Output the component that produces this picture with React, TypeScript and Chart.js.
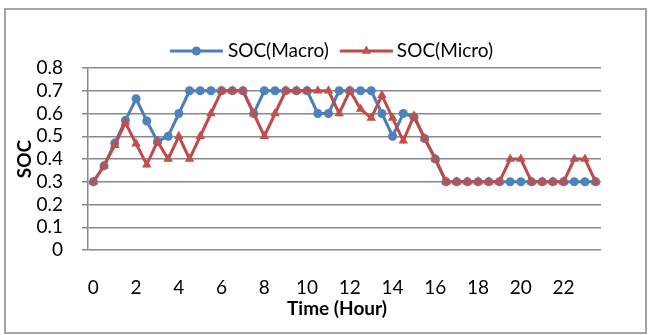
import React, { useEffect, useRef } from "react";
import { Chart, registerables } from "chart.js";

Chart.register(...registerables);

// Half-hour time steps over one day
const hours: string[] = [
  "0", "0.5", "1", "1.5", "2", "2.5", "3", "3.5", "4", "4.5", "5", "5.5",
  "6", "6.5", "7", "7.5", "8", "8.5", "9", "9.5", "10", "10.5", "11", "11.5",
  "12", "12.5", "13", "13.5", "14", "14.5", "15", "15.5", "16", "16.5", "17", "17.5",
  "18", "18.5", "19", "19.5", "20", "20.5", "21", "21.5", "22", "22.5", "23", "23.5",
];

// State of charge, macro-grid strategy
const socMacro: number[] = [
  0.3, 0.37, 0.47, 0.57, 0.665, 0.567, 0.477, 0.5, 0.6, 0.7, 0.7, 0.7,
  0.7, 0.7, 0.7, 0.6, 0.7, 0.7, 0.7, 0.7, 0.7, 0.6, 0.6, 0.7,
  0.7, 0.7, 0.7, 0.6, 0.5, 0.6, 0.585, 0.49, 0.4, 0.3, 0.3, 0.3,
  0.3, 0.3, 0.3, 0.3, 0.3, 0.3, 0.3, 0.3, 0.3, 0.3, 0.3, 0.3,
];

// State of charge, micro-grid strategy
const socMicro: number[] = [
  0.3, 0.37, 0.46, 0.56, 0.467, 0.375, 0.477, 0.4, 0.5, 0.4, 0.5, 0.6,
  0.7, 0.7, 0.7, 0.6, 0.5, 0.6, 0.7, 0.7, 0.7, 0.7, 0.7, 0.6,
  0.7, 0.62, 0.58, 0.68, 0.58, 0.48, 0.59, 0.49, 0.4, 0.3, 0.3, 0.3,
  0.3, 0.3, 0.3, 0.4, 0.4, 0.3, 0.3, 0.3, 0.3, 0.4, 0.4, 0.3,
];

// y-axis tick values
const yTicks: number[] = [0, 0.1, 0.2, 0.3, 0.4, 0.5, 0.6, 0.7, 0.8];

const seriesNames = ["SOC(Macro)", "SOC(Micro)"];
const xTitle = "Time (Hour)";
const yTitle = "SOC";

const FONT = "Lato, 'Liberation Sans', sans-serif";
const GRID = "#888888";
const BLUE_LINE = "#4A7EBB";
const BLUE_FILL = "#4F81BD";
const RED_LINE = "#BE4B48";
const RED_FILL = "#C0504D";

const frameAndText = {
  id: "frameAndText",
  beforeDraw(chart: any) {
    const ctx = chart.ctx;
    ctx.save();
    ctx.fillStyle = "#ffffff";
    ctx.fillRect(0, 0, chart.width, chart.height);
    ctx.strokeStyle = "#a3a3a3";
    ctx.lineWidth = 2;
    ctx.strokeRect(5, 9, 641, 324);
    ctx.restore();
  },
  afterDraw(chart: any) {
    const ctx = chart.ctx;
    const area = chart.chartArea;
    ctx.save();
    ctx.fillStyle = "#000000";
    ctx.textBaseline = "middle";
    ctx.textAlign = "center";

    // axis titles
    ctx.font = `bold 19px ${FONT}`;
    ctx.fillText(xTitle, 337, 309);
    ctx.save();
    ctx.translate(25, (area.top + area.bottom) / 2);
    ctx.rotate(-Math.PI / 2);
    ctx.fillText(yTitle, 0, 0);
    ctx.restore();

    // legend: line with marker, then series name
    ctx.font = `19px ${FONT}`;
    const lineLen = 53;
    const w0 = ctx.measureText(seriesNames[0]).width;
    const w1 = ctx.measureText(seriesNames[1]).width;
    const total = lineLen + 5 + w0 + 11 + lineLen + 4 + w1;
    let x = 331.5 - total / 2;
    const y = 51;
    const items = [
      { line: BLUE_LINE, fill: BLUE_FILL, style: "circle", r: 4.5, w: w0, gap: 5, after: 11 },
      { line: RED_LINE, fill: RED_FILL, style: "triangle", r: 5.5, w: w1, gap: 4, after: 0 },
    ];
    items.forEach((it, i) => {
      ctx.strokeStyle = it.line;
      ctx.lineWidth = 3;
      ctx.beginPath();
      ctx.moveTo(x, y);
      ctx.lineTo(x + lineLen, y);
      ctx.stroke();
      ctx.fillStyle = it.fill;
      ctx.beginPath();
      const cx = x + lineLen / 2;
      if (it.style === "circle") {
        ctx.arc(cx, y, it.r, 0, Math.PI * 2);
      } else {
        const r = it.r;
        ctx.moveTo(cx, y - r);
        ctx.lineTo(cx + r * 0.866, y + r * 0.5);
        ctx.lineTo(cx - r * 0.866, y + r * 0.5);
        ctx.closePath();
      }
      ctx.fill();
      x += lineLen + it.gap;
      ctx.fillStyle = "#000000";
      ctx.textAlign = "left";
      ctx.fillText(seriesNames[i], x, y);
      x += it.w + it.after;
    });
    ctx.restore();
  },
};

export default function App() {
  const canvasRef = useRef<HTMLCanvasElement | null>(null);

  useEffect(() => {
    const canvas = canvasRef.current;
    if (!canvas) return;
    const chart = new Chart(canvas, {
      type: "line",
      data: {
        labels: hours,
        datasets: [
          {
            label: seriesNames[0],
            data: socMacro,
            borderColor: BLUE_LINE,
            backgroundColor: BLUE_FILL,
            pointBackgroundColor: BLUE_FILL,
            pointBorderColor: BLUE_FILL,
            borderWidth: 3,
            pointStyle: "circle",
            pointRadius: 4.5,
            pointBorderWidth: 0,
            tension: 0,
            order: 2,
          },
          {
            label: seriesNames[1],
            data: socMicro,
            borderColor: RED_LINE,
            backgroundColor: RED_FILL,
            pointBackgroundColor: RED_FILL,
            pointBorderColor: RED_FILL,
            borderWidth: 3,
            pointStyle: "triangle",
            pointRadius: 5.5,
            pointBorderWidth: 0,
            tension: 0,
            order: 1,
          },
        ],
      },
      options: {
        responsive: false,
        animation: false,
        layout: { padding: { left: 0, top: 68, right: 48, bottom: 0 } },
        plugins: {
          legend: { display: false },
          tooltip: { enabled: false },
          title: { display: false },
        },
        scales: {
          x: {
            type: "category",
            offset: true,
            grid: { display: false, drawTicks: false },
            border: { display: false },
            ticks: {
              autoSkip: false,
              maxRotation: 0,
              minRotation: 0,
              padding: 26,
              color: "#000000",
              font: { family: FONT, size: 19 },
              callback: (_v: any, idx: number) => (idx % 4 === 0 ? hours[idx] : ""),
            },
            afterFit: (scale: any) => {
              scale.height = 85;
            },
          },
          y: {
            min: 0,
            max: 0.8,
            grid: { color: GRID, lineWidth: 1.5, tickLength: 6, drawTicks: true },
            border: { display: true, color: GRID, width: 1.5 },
            ticks: {
              autoSkip: false,
              padding: 19,
              color: "#000000",
              font: { family: FONT, size: 19 },
              callback: (v: any) => (Number(v) === 0 ? "0" : Number(v).toFixed(1)),
            },
            afterBuildTicks: (scale: any) => {
              scale.ticks = yTicks.map((v) => ({ value: v }));
            },
            afterFit: (scale: any) => {
              scale.width = 88;
            },
          },
        },
      },
      plugins: [frameAndText],
    });
    return () => chart.destroy();
  }, []);

  return (
    <div style={{ position: "absolute", left: 0, top: 0, width: 649, height: 335 }}>
      <canvas ref={canvasRef} width={649} height={335} />
    </div>
  );
}
